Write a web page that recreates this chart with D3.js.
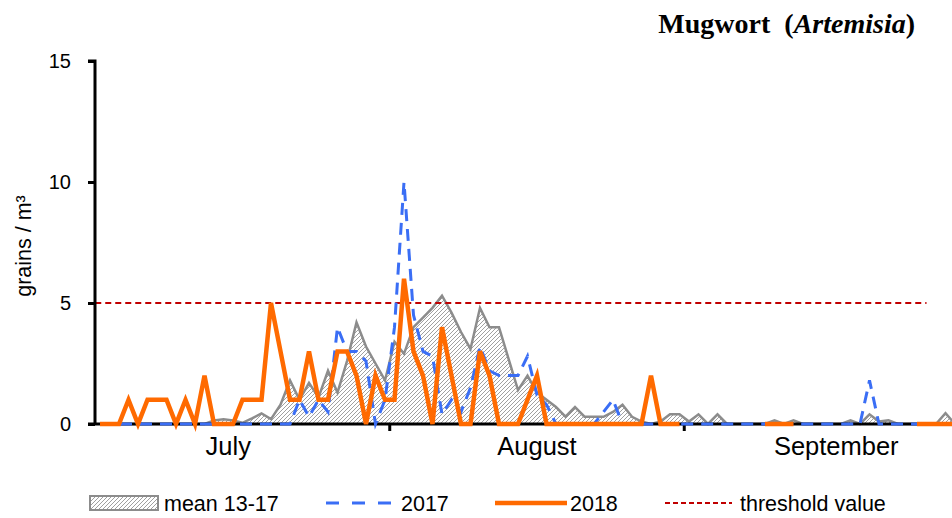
<!DOCTYPE html>
<html><head><meta charset="utf-8">
<script src="https://cdn.jsdelivr.net/npm/d3@7"></script>
<style>
body{margin:0;background:#fff;overflow:hidden}
svg{display:block;font-family:"Liberation Sans",Arial,sans-serif}
</style></head>
<body><svg id="c" width="952" height="518"></svg>
<script>
// ---- data ----
const startDate = "2018-07-01";
const dayCount = 92;
const monthLabels = ["July", "August", "September"];
const monthLabelDay = [13.5, 46, 77.5];
const monthTickDay = [30.5, 61.5];
const yTicks = [0, 5, 10, 15];
const threshold = 5;
const thresholdEndDay = 87;
const mean1317 = [0,0,0,0,0,0,0,0,0,0,0,0,0.15,0.2,0.15,0.05,0.23,0.44,0.2,0.8,
  1.8,1.0,1.7,1.1,2.2,1.3,2.6,4.2,3.2,2.5,1.8,3.4,2.9,4.0,4.4,4.8,5.3,4.6,3.8,3.1,
  4.8,4.0,4.0,2.7,1.4,2.0,1.3,1.0,0.7,0.3,0.7,0.3,0.3,0.3,0.5,0.8,0.3,0.1,0,0.1,
  0.4,0.4,0.1,0.4,0,0.4,0,0,0,0,0,0.15,0,0.15,0,0,0,0,0,0.15,
  0,0.4,0.1,0.15,0,0,0,0,0,0.45,0,0];
const y2017 = [0,0,0,0,0,0,0,0,0,0,0,0,0,0,0,0,0,0,0,0,
  0,1.0,0.3,1.0,0.5,4.0,3.0,3.0,2.6,0,1.0,4.0,10.0,4.5,3.0,2.8,0.4,1.0,0.5,1.5,
  3.2,2.2,2.0,2.0,2.0,2.8,1.2,0.8,0,0,0,0,0,0.5,1.0,0,0,0,0,0,
  0,0,0,0,0,0,0,0,0,0,0,0,0,0,0,0,0,0,0,0,
  0,1.8,0,0,0,0,0,0,0,0,0,0];
const y2018 = [0,0,0,1,0,1,1,1,0,1,0,2,0,0,0,1,1,1,5,3,
  1,1,3,1,1,3,3,2,0,2,1,1,6,3,2,0,4,2,0,0,
  3,2,0,0,0,1,2,0,0,0,0,0,0,0,0,0,0,0,2,0,
  0,0,null,null,null,null,null,null,null,null,0,0,0,0,null,null,null,null,null,null,
  null,null,null,null,null,null,0,0,0,0,0,0];
const legendLabels = ["mean 13-17", "2017", "2018", "threshold value"];
const titleMain = "Mugwort";
const titleItalic = "Artemisia";
const yAxisTitle = "grains / m³";

// ---- chart ----
const svg = d3.select("#c");
const days = d3.range(dayCount);
const x = d3.scaleBand().domain(days).range([95.25, 95.25 + 9.5 * dayCount]).padding(0);
const cx = i => x(i) + x.bandwidth() / 2;
const xPos = d => x(0) + x.step() * (d + 0.5);
const y = d3.scaleLinear().domain([0, 15]).range([424, 61]);

const defs = svg.append("defs");
const pat = defs.append("pattern").attr("id", "hatch").attr("patternUnits", "userSpaceOnUse")
  .attr("width", 4).attr("height", 4);
pat.append("rect").attr("width", 4).attr("height", 4).attr("fill", "#fff");
pat.append("path").attr("d", "M-1,1 l2,-2 M0,4 l4,-4 M3,5 l2,-2")
  .attr("stroke", "#777").attr("stroke-width", 0.7);

// mean area
const area = d3.area().x((d, i) => cx(i)).y0(y(0)).y1(d => y(d));
svg.append("path").datum(mean1317).attr("d", area).attr("fill", "url(#hatch)");
svg.append("path").datum(mean1317)
  .attr("d", d3.line().x((d, i) => cx(i)).y(d => y(d)))
  .attr("fill", "none").attr("stroke", "#8c8c8c").attr("stroke-width", 2.5).attr("stroke-linejoin", "miter");

// threshold
svg.append("line").attr("x1", x(0)).attr("x2", cx(thresholdEndDay))
  .attr("y1", y(threshold)).attr("y2", y(threshold))
  .attr("stroke", "#c00000").attr("stroke-width", 2).attr("stroke-dasharray", "6,4");

// axes
const yAxis = d3.axisLeft(y).tickValues(yTicks).tickSize(7).tickPadding(17).tickFormat(d3.format("d"));
const gy = svg.append("g").attr("transform", `translate(95,0)`).call(yAxis);
gy.select(".domain").attr("stroke", "#000").attr("stroke-width", 3);
gy.selectAll(".tick line").attr("stroke", "#000").attr("stroke-width", 3);
gy.selectAll(".tick text").attr("font-size", 20).attr("fill", "#000")
  .attr("font-family", "Liberation Sans, Arial, sans-serif");
gy.select(".domain").attr("d", `M-7,${y(15)}H0V${y(0)}`);

svg.append("line").attr("x1", 88).attr("x2", 952).attr("y1", y(0)).attr("y2", y(0))
  .attr("stroke", "#000").attr("stroke-width", 3);
svg.selectAll(".mtick").data(monthTickDay).join("line").attr("class", "mtick")
  .attr("x1", d => xPos(d)).attr("x2", d => xPos(d)).attr("y1", y(0)).attr("y2", y(0) + 7)
  .attr("stroke", "#000").attr("stroke-width", 3);
svg.selectAll(".mlab").data(monthLabels).join("text").attr("class", "mlab")
  .attr("x", (d, i) => xPos(monthLabelDay[i])).attr("y", 455)
  .attr("text-anchor", "middle").attr("font-size", 25.5).attr("fill", "#000").text(d => d);

// 2017 dashed
svg.append("path").datum(y2017)
  .attr("d", d3.line().x((d, i) => cx(i)).y(d => y(d)))
  .attr("fill", "none").attr("stroke", "#3a6ef5").attr("stroke-width", 3)
  .attr("stroke-dasharray", "12,8");

// 2018
svg.append("path").datum(y2018)
  .attr("d", d3.line().defined(d => d !== null).x((d, i) => cx(i)).y(d => y(d)))
  .attr("fill", "none").attr("stroke", "#ff6a00").attr("stroke-width", 4.5)
  .attr("stroke-linejoin", "miter");

// y title
svg.append("text").attr("transform", "translate(31,246) rotate(-90)")
  .attr("text-anchor", "middle").attr("font-size", 21.5).attr("fill", "#000").text(yAxisTitle);

// title
const t = svg.append("text").attr("x", 915).attr("y", 33).attr("text-anchor", "end")
  .attr("font-family", "Liberation Serif, Times New Roman, serif").attr("font-size", 28)
  .attr("font-weight", "bold").attr("fill", "#000").style("white-space", "pre");
t.append("tspan").text(titleMain + "  (");
t.append("tspan").attr("font-style", "italic").text(titleItalic);
t.append("tspan").text(")");

// legend
const ly = 503;
const lg = svg.append("g");
lg.append("rect").attr("x", 90).attr("y", ly - 7).attr("width", 68).attr("height", 14)
  .attr("fill", "url(#hatch)").attr("stroke", "#8c8c8c").attr("stroke-width", 2);
lg.append("line").attr("x1", 326).attr("x2", 395).attr("y1", ly).attr("y2", ly)
  .attr("stroke", "#3a6ef5").attr("stroke-width", 3).attr("stroke-dasharray", "13,13");
lg.append("line").attr("x1", 495).attr("x2", 567).attr("y1", ly).attr("y2", ly)
  .attr("stroke", "#ff6a00").attr("stroke-width", 4.5);
lg.append("line").attr("x1", 665).attr("x2", 732).attr("y1", ly).attr("y2", ly)
  .attr("stroke", "#c00000").attr("stroke-width", 2).attr("stroke-dasharray", "5,3");
const lx = [164, 401, 570, 740];
lg.selectAll("text").data(legendLabels).join("text")
  .attr("x", (d, i) => lx[i]).attr("y", ly + 8).attr("font-size", 21.5).attr("fill", "#000")
  .text(d => d);
</script></body></html>
